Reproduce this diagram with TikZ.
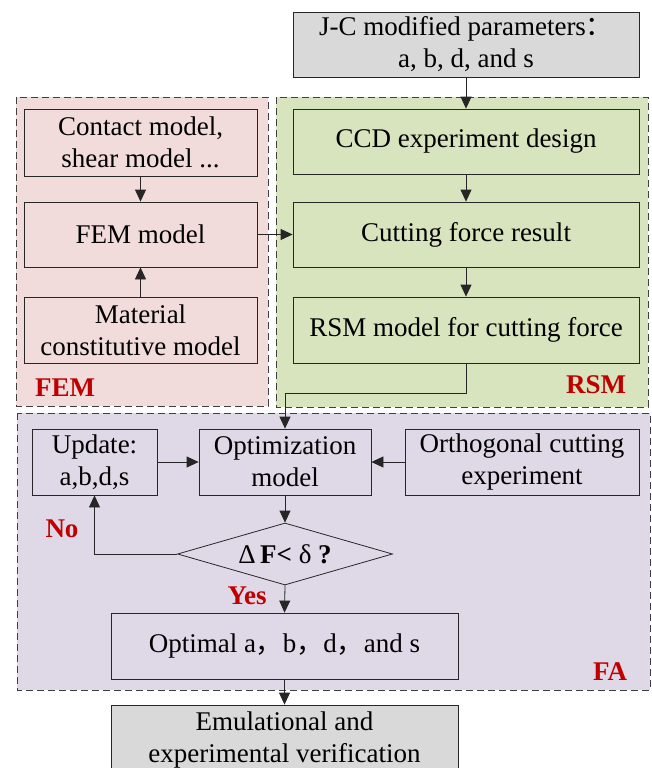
\documentclass[tikz,border=0pt]{standalone}
\usepackage{fontspec}
\setmainfont{Liberation Serif}
\newfontfamily\cjk{Noto Sans CJK SC}
\usetikzlibrary{arrows.meta,shapes.geometric}
\definecolor{fempink}{HTML}{F2DCDB}
\definecolor{rsmgreen}{HTML}{D7E4BD}
\definecolor{falav}{HTML}{DFD8E7}
\definecolor{boxgray}{HTML}{D9D9D9}
\definecolor{lblred}{HTML}{C00000}
\begin{document}
\begin{tikzpicture}[x=1pt,y=-1pt,
  box/.style={draw=black!85, line width=0.8pt, align=center, inner sep=0pt,
    font=\fontsize{27}{32}\selectfont},
  region/.style={draw=black!75, line width=0.9pt, dash pattern=on 7pt off 4pt},
  arr/.style={draw=black!85, line width=0.8pt, -{Triangle[length=12pt,width=11pt]}},
  lbl/.style={text=lblred, inner sep=0pt, font=\fontsize{27}{32}\selectfont\bfseries}]
\useasboundingbox (0,0) rectangle (651,768);
\clip (0,0) rectangle (651,768);
% regions
\filldraw[fill=fempink, region] (16,97) rectangle (268,406);
\filldraw[fill=rsmgreen, region] (276,97) rectangle (648,407);
\filldraw[fill=falav, region] (17,413) rectangle (650,690);
% top and bottom
\node[box, fill=boxgray, minimum width=346pt, minimum height=65pt] (top) at (466,44.5)
  {J-C modified parameters{\cjk ：}\\a, b, d, and s};
% FEM
\node[box, minimum width=233pt, minimum height=67pt] (contact) at (140.5,142.5)
  {Contact model,\\shear model ...};
\node[box, minimum width=233pt, minimum height=65pt] (femm) at (140.5,234.5) {FEM model};
\node[box, minimum width=233pt, minimum height=66pt] (material) at (140.5,330)
  {Material\\constitutive model};
% RSM
\node[box, minimum width=346pt, minimum height=65pt] (ccd) at (466,141.5) {CCD experiment design};
\node[box, minimum width=346pt, minimum height=65pt] (cut) at (466,234.5) {Cutting force result};
\node[box, minimum width=346pt, minimum height=66pt] (rsm) at (466,330) {RSM model for cutting force};
% FA
\node[box, minimum width=125pt, minimum height=66pt] (update) at (94.5,462) {Update:\\a,b,d,s};
\node[box, minimum width=172pt, minimum height=66pt] (opt) at (285,462) {Optimization\\model};
\node[box, minimum width=234pt, minimum height=66pt] (orth) at (522,462) {Orthogonal cutting\\experiment};
\node[box, shape=diamond, aspect=3.47, minimum width=215pt, minimum height=62pt] (dia) at (285,554)
  {Δ\,\textbf{F<} δ \textbf{?}};
\node[box, minimum width=347pt, minimum height=66pt] (optimal) at (284.5,646)
  {Optimal a{\cjk ，}b{\cjk ，}d{\cjk ，}and s};
\node[box, fill=boxgray, minimum width=347pt, minimum height=70pt] (verif) at (284.5,740)
  {Emulational and\\experimental verification};
% labels
\node[lbl] (femlbl) at (65,388) {FEM};
\node[lbl] (rsmlbl) at (596,385) {RSM};
\node[lbl] (falbl) at (610,672) {FA};
\node[lbl] (nolbl) at (62,529) {No};
\node[lbl] (yeslbl) at (247,596) {Yes};
% connectors
\draw[arr] (top.south) -- (ccd.north);
\draw[arr] (ccd.south) -- (cut.north);
\draw[arr] (cut.south) -- (rsm.north);
\draw[arr] (contact.south) -- (femm.north);
\draw[arr] (material.north) -- (femm.south);
\draw[arr] (femm.east) -- (cut.west);
\draw[arr] (rsm.south) -- ++(0,30) -| (opt.north);
\draw[arr] (update.east) -- (opt.west);
\draw[arr] (orth.west) -- (opt.east);
\draw[arr] (opt.south) -- (dia.north);
\draw[arr] (dia.west) -| (update.south);
\draw[arr] (dia.south) -- (optimal.north);
\draw[arr] (optimal.south) -- (verif.north);
\end{tikzpicture}
\end{document}
